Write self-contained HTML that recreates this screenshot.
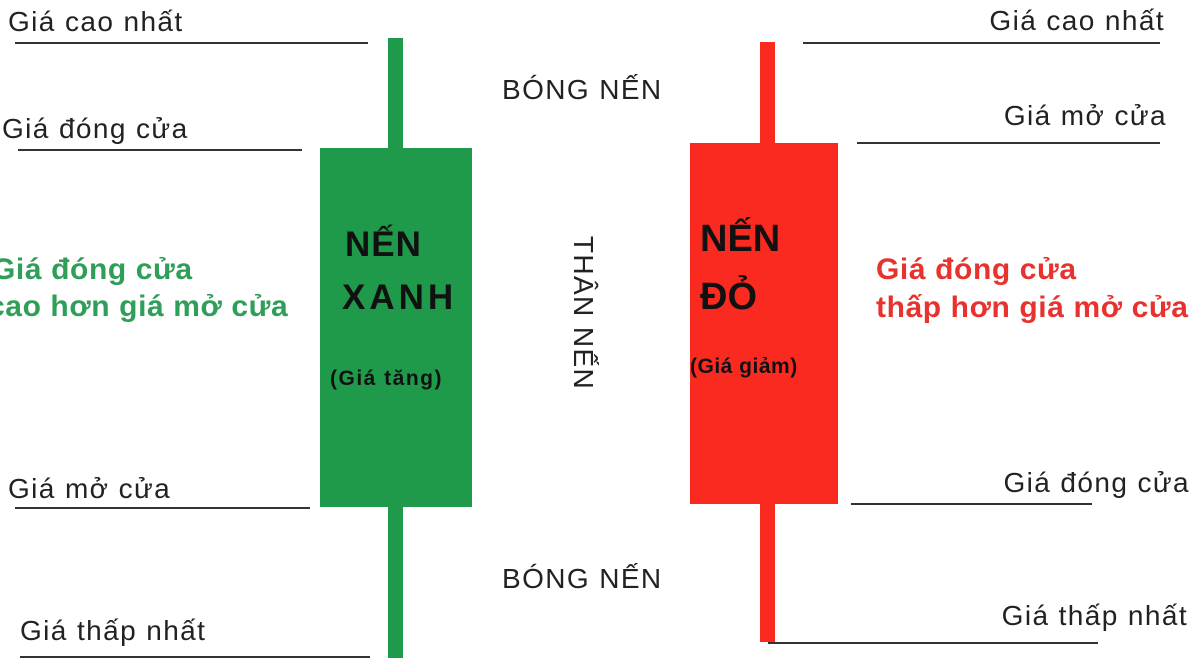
<!DOCTYPE html>
<html><head><meta charset="utf-8"><style>
body{margin:0;width:1199px;height:662px;background:#fff;position:relative;overflow:hidden;font-family:"Liberation Sans",sans-serif;}
.a{position:absolute;white-space:nowrap;}
.l{position:absolute;height:2px;background:#333;}
.t{font-size:28px;letter-spacing:1.4px;color:#222;line-height:1;}
.g{font-size:30px;letter-spacing:0.6px;font-weight:bold;color:#2e9e58;line-height:1;}
.r{font-size:30px;letter-spacing:0.6px;font-weight:bold;color:#e8322e;line-height:1;}
.b{font-weight:bold;color:#111;line-height:1;}
</style></head><body>
<!-- green candle -->
<div class="a" style="left:388px;top:38px;width:15px;height:620px;background:#1f9a4a"></div>
<div class="a" style="left:320px;top:148px;width:152px;height:359px;background:#1f9a4a"></div>
<div class="a b" style="left:345px;top:227px;font-size:35px;letter-spacing:1px">NẾN</div>
<div class="a b" style="left:342px;top:280px;font-size:35px;letter-spacing:4px">XANH</div>
<div class="a b" style="left:330px;top:368px;font-size:21px;letter-spacing:1.5px">(Giá tăng)</div>
<!-- red candle -->
<div class="a" style="left:760px;top:42px;width:15px;height:600px;background:#fb2a20"></div>
<div class="a" style="left:690px;top:143px;width:148px;height:361px;background:#fb2a20"></div>
<div class="a b" style="left:700px;top:220px;font-size:38px">NẾN</div>
<div class="a b" style="left:700px;top:278px;font-size:38px">ĐỎ</div>
<div class="a b" style="left:690px;top:356px;font-size:21px;letter-spacing:0.5px">(Giá giảm)</div>
<!-- left lines -->
<div class="l" style="left:15px;top:42px;width:353px"></div>
<div class="l" style="left:18px;top:149px;width:284px"></div>
<div class="l" style="left:15px;top:507px;width:295px"></div>
<div class="l" style="left:20px;top:656px;width:350px"></div>
<div class="a t" style="left:8px;top:8px">Giá cao nhất</div>
<div class="a t" style="left:2px;top:115px">Giá đóng cửa</div>
<div class="a t" style="left:8px;top:475px">Giá mở cửa</div>
<div class="a t" style="left:20px;top:617px">Giá thấp nhất</div>
<div class="a g" style="left:-8px;top:255px">Giá đóng cửa</div>
<div class="a g" style="left:-12px;top:292px">cao hơn giá mở cửa</div>
<!-- right lines -->
<div class="l" style="left:803px;top:42px;width:357px"></div>
<div class="l" style="left:857px;top:142px;width:303px"></div>
<div class="l" style="left:851px;top:503px;width:241px"></div>
<div class="l" style="left:768px;top:642px;width:330px"></div>
<div class="a t" style="right:34px;top:7px">Giá cao nhất</div>
<div class="a t" style="right:32px;top:102px">Giá mở cửa</div>
<div class="a t" style="right:9px;top:469px">Giá đóng cửa</div>
<div class="a t" style="right:11px;top:602px">Giá thấp nhất</div>
<div class="a r" style="left:876px;top:255px">Giá đóng cửa</div>
<div class="a r" style="left:876px;top:293px">thấp hơn giá mở cửa</div>
<!-- center -->
<div class="a t" style="left:502px;top:76px">BÓNG NẾN</div>
<div class="a t" style="left:502px;top:565px">BÓNG NẾN</div>
<div class="a t" style="left:583px;top:313px;transform:translate(-50%,-50%) rotate(90deg)">THÂN NẾN</div>
</body></html>
